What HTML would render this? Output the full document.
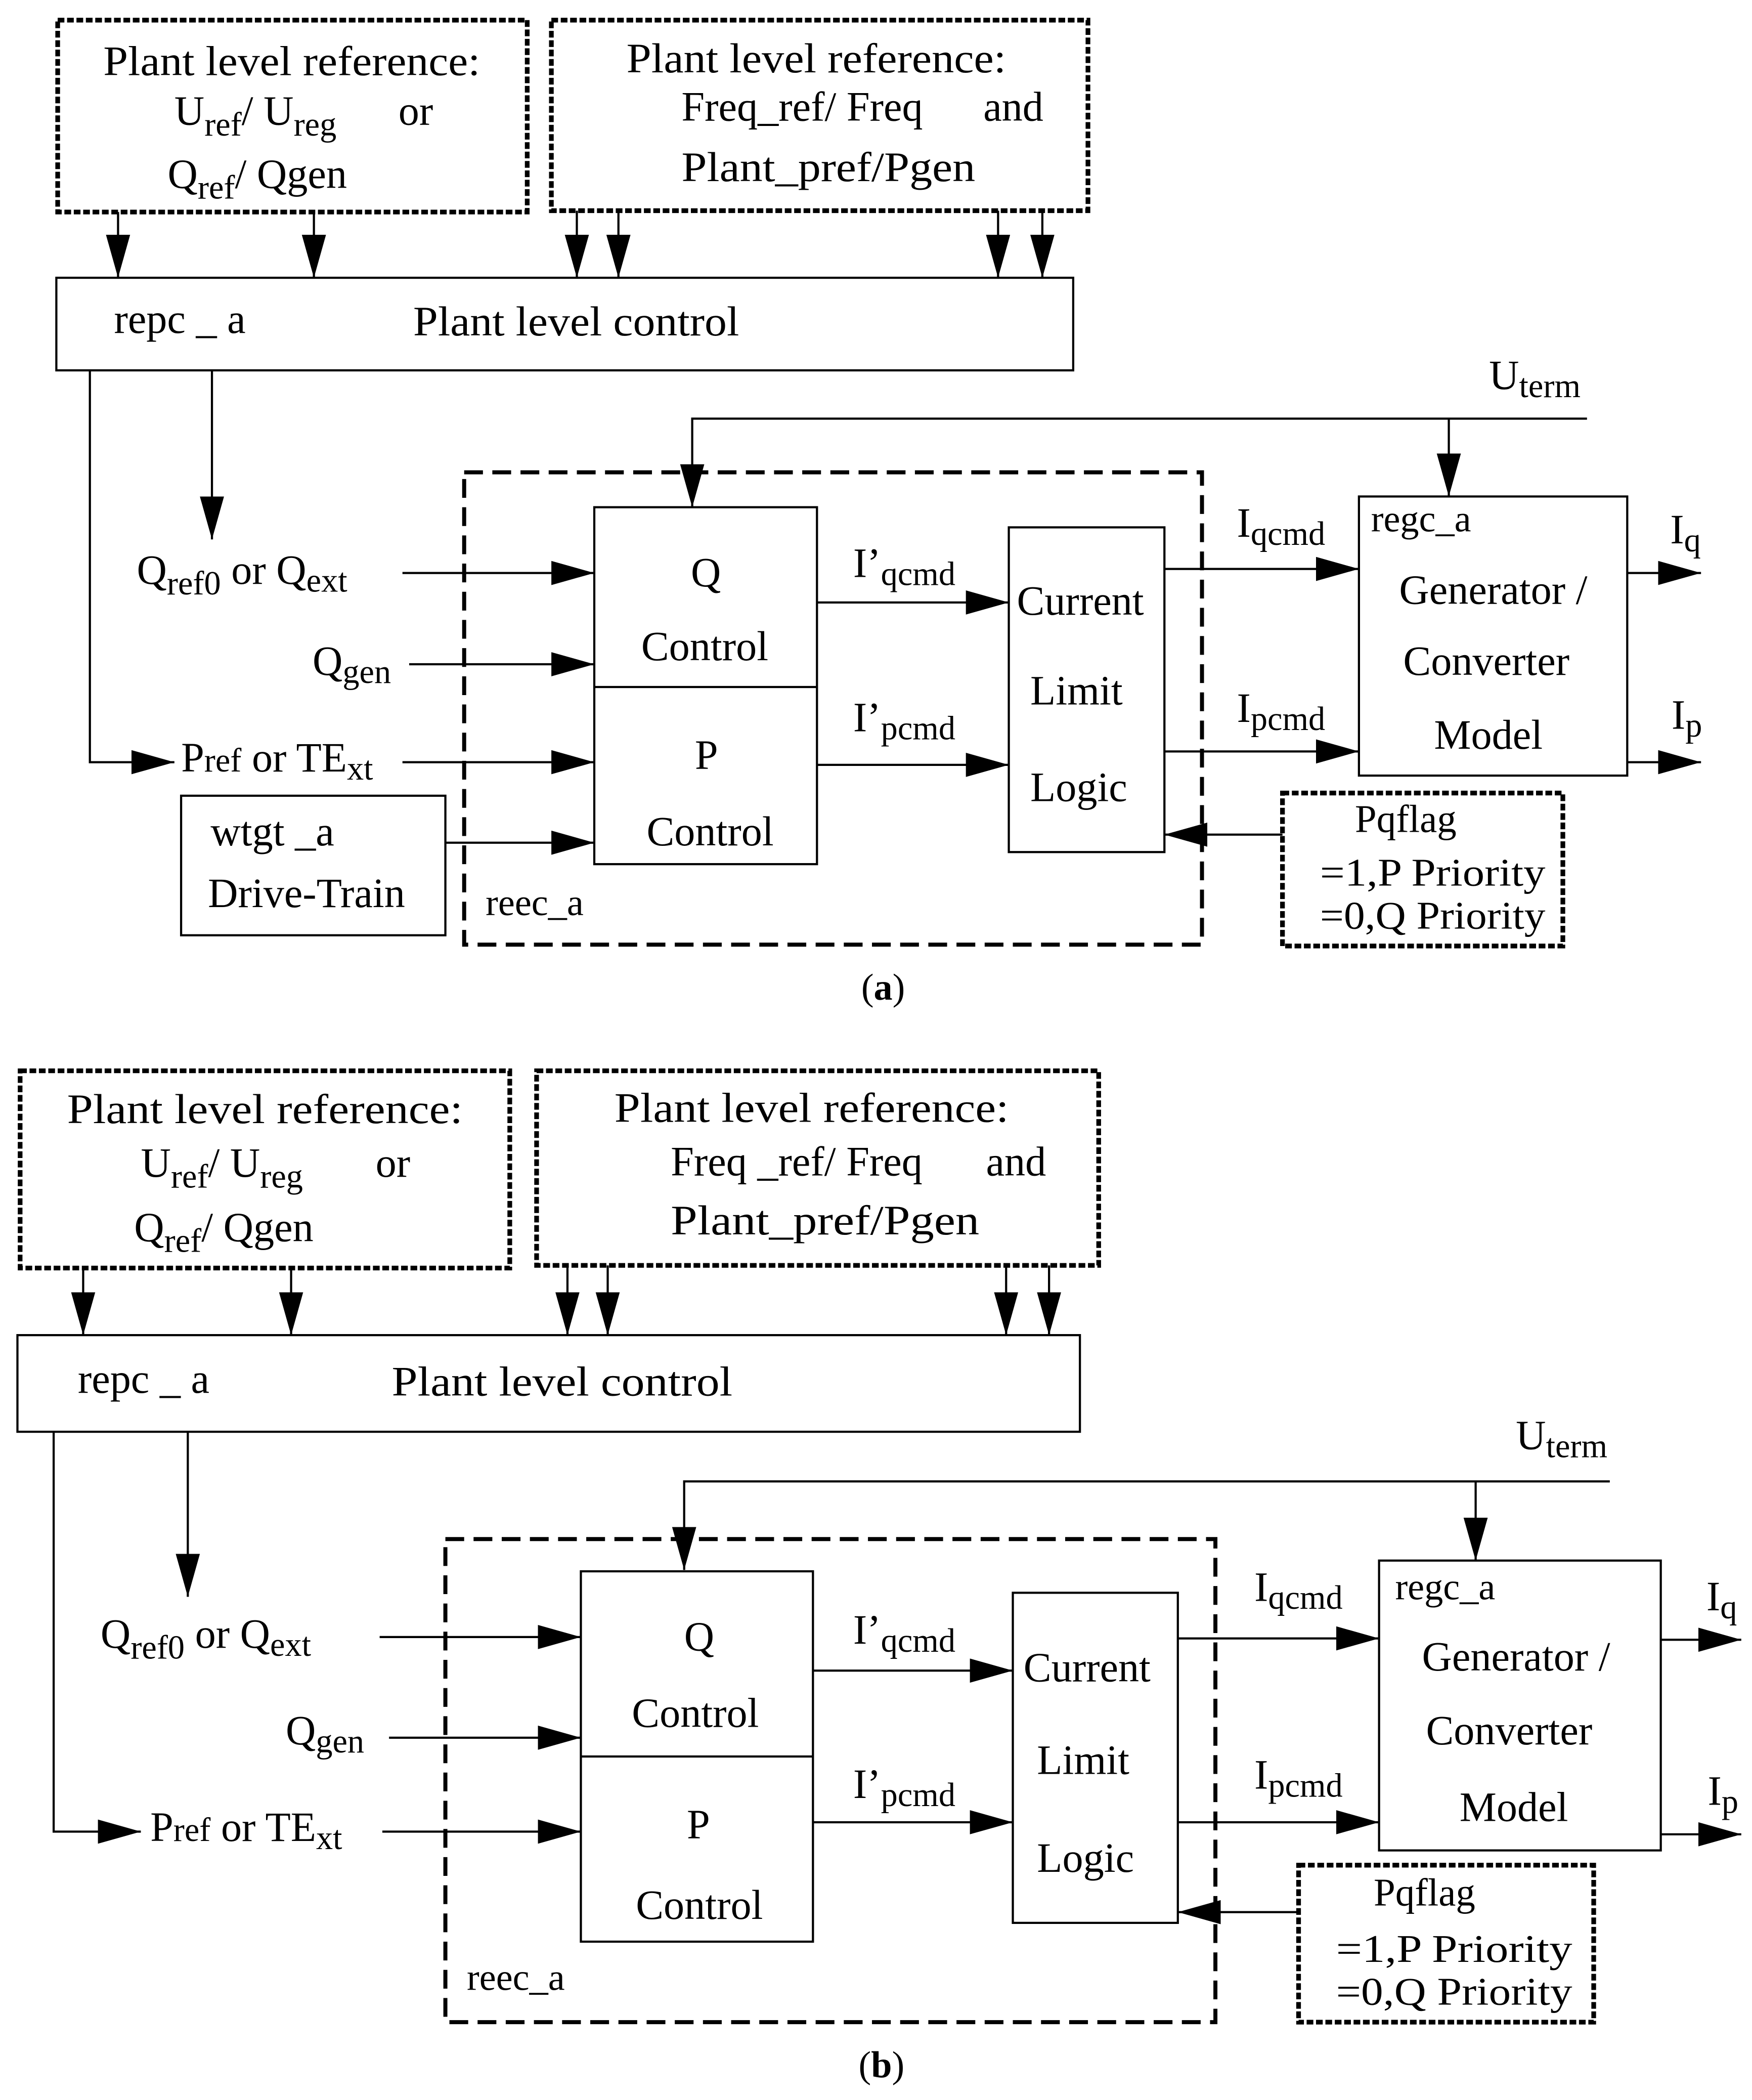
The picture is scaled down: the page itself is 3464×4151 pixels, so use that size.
<!DOCTYPE html>
<html><head><meta charset="utf-8"><style>
html,body{margin:0;padding:0;background:#fff;}
svg{display:block;}
text{font-family:"Liberation Serif","Times New Roman",serif;fill:#000;}
</style></head><body>
<svg width="3464" height="4151" viewBox="0 0 1306 1565" xmlns="http://www.w3.org/2000/svg">
<defs>
<marker id="ar" markerUnits="userSpaceOnUse" markerWidth="34" markerHeight="20" refX="32" refY="9" orient="auto">
<path d="M0,0 L32,9 L0,18 z" fill="#000"/></marker>
</defs>
<rect width="1306" height="1565" fill="#fff"/>
<g fill="none" stroke="#000" stroke-width="1.6">
<!-- (a) -->
<rect x="43" y="15" width="350" height="143" stroke-width="3.5" stroke-dasharray="5 2"/>
<rect x="411" y="15" width="400" height="142" stroke-width="3.5" stroke-dasharray="5 2"/>
<line x1="88" y1="158" x2="88" y2="207" marker-end="url(#ar)"/>
<line x1="234" y1="158" x2="234" y2="207" marker-end="url(#ar)"/>
<line x1="430" y1="157" x2="430" y2="207" marker-end="url(#ar)"/>
<line x1="461" y1="157" x2="461" y2="207" marker-end="url(#ar)"/>
<line x1="744" y1="157" x2="744" y2="207" marker-end="url(#ar)"/>
<line x1="777" y1="157" x2="777" y2="207" marker-end="url(#ar)"/>
<rect x="42" y="207" width="758" height="69"/>
<polyline points="67,276 67,568 130,568" marker-end="url(#ar)"/>
<line x1="158" y1="276" x2="158" y2="402" marker-end="url(#ar)"/>
<polyline points="1183,312 516,312 516,378" marker-end="url(#ar)"/>
<line x1="1080" y1="312" x2="1080" y2="370" marker-end="url(#ar)"/>
<rect x="346" y="352" width="550" height="352" stroke-width="3" stroke-dasharray="14 7"/>
<rect x="443" y="378" width="166" height="266"/>
<line x1="443" y1="512" x2="609" y2="512"/>
<rect x="752" y="393" width="116" height="242"/>
<rect x="1013" y="370" width="200" height="208"/>
<line x1="300" y1="427" x2="443" y2="427" marker-end="url(#ar)"/>
<line x1="305" y1="495" x2="443" y2="495" marker-end="url(#ar)"/>
<line x1="300" y1="568" x2="443" y2="568" marker-end="url(#ar)"/>
<rect x="135" y="593" width="197" height="104"/>
<line x1="332" y1="628" x2="443" y2="628" marker-end="url(#ar)"/>
<line x1="609" y1="449" x2="752" y2="449" marker-end="url(#ar)"/>
<line x1="609" y1="570" x2="752" y2="570" marker-end="url(#ar)"/>
<line x1="868" y1="424" x2="1013" y2="424" marker-end="url(#ar)"/>
<line x1="868" y1="560" x2="1013" y2="560" marker-end="url(#ar)"/>
<line x1="1213" y1="427" x2="1268" y2="427" marker-end="url(#ar)"/>
<line x1="1213" y1="568" x2="1268" y2="568" marker-end="url(#ar)"/>
<rect x="956" y="591" width="209" height="114" stroke-width="3.5" stroke-dasharray="5 2"/>
<line x1="956" y1="622" x2="868" y2="622" marker-end="url(#ar)"/>
<!-- (b) -->
<rect x="15" y="798" width="365" height="147" stroke-width="3.5" stroke-dasharray="5 2"/>
<rect x="400" y="798" width="419" height="145" stroke-width="3.5" stroke-dasharray="5 2"/>
<line x1="62" y1="945" x2="62" y2="995" marker-end="url(#ar)"/>
<line x1="217" y1="945" x2="217" y2="995" marker-end="url(#ar)"/>
<line x1="423" y1="943" x2="423" y2="995" marker-end="url(#ar)"/>
<line x1="453" y1="943" x2="453" y2="995" marker-end="url(#ar)"/>
<line x1="750" y1="943" x2="750" y2="995" marker-end="url(#ar)"/>
<line x1="782" y1="943" x2="782" y2="995" marker-end="url(#ar)"/>
<rect x="13" y="995" width="792" height="72"/>
<polyline points="40,1067 40,1365 105,1365" marker-end="url(#ar)"/>
<line x1="140" y1="1067" x2="140" y2="1190" marker-end="url(#ar)"/>
<polyline points="1200,1104 510,1104 510,1170" marker-end="url(#ar)"/>
<line x1="1100" y1="1104" x2="1100" y2="1163" marker-end="url(#ar)"/>
<rect x="332" y="1147" width="574" height="360" stroke-width="3" stroke-dasharray="14 7"/>
<rect x="433" y="1171" width="173" height="276"/>
<line x1="433" y1="1309" x2="606" y2="1309"/>
<rect x="755" y="1187" width="123" height="246"/>
<rect x="1028" y="1163" width="210" height="216"/>
<line x1="283" y1="1220" x2="433" y2="1220" marker-end="url(#ar)"/>
<line x1="290" y1="1295" x2="433" y2="1295" marker-end="url(#ar)"/>
<line x1="285" y1="1365" x2="433" y2="1365" marker-end="url(#ar)"/>
<line x1="606" y1="1245" x2="755" y2="1245" marker-end="url(#ar)"/>
<line x1="606" y1="1358" x2="755" y2="1358" marker-end="url(#ar)"/>
<line x1="878" y1="1221" x2="1028" y2="1221" marker-end="url(#ar)"/>
<line x1="878" y1="1358" x2="1028" y2="1358" marker-end="url(#ar)"/>
<line x1="1238" y1="1222" x2="1298" y2="1222" marker-end="url(#ar)"/>
<line x1="1238" y1="1367" x2="1298" y2="1367" marker-end="url(#ar)"/>
<rect x="968" y="1390" width="220" height="117" stroke-width="3.5" stroke-dasharray="5 2"/>
<line x1="968" y1="1425" x2="878" y2="1425" marker-end="url(#ar)"/>
</g>
<g font-size="31" font-family="Liberation Serif, Times New Roman, serif">
<!-- (a) text -->
<text x="77" y="56" textLength="281" lengthAdjust="spacingAndGlyphs">Plant level reference:</text>
<text x="130" y="93">U<tspan font-size="25" dy="8">ref</tspan><tspan dy="-8">/ U</tspan><tspan font-size="25" dy="8">reg</tspan><tspan dy="-8" x="297">or</tspan></text>
<text x="125" y="140">Q<tspan font-size="25" dy="8">ref</tspan><tspan dy="-8">/ Qgen</tspan></text>
<text x="467" y="54" textLength="283" lengthAdjust="spacingAndGlyphs">Plant level reference:</text>
<text x="508" y="90">Freq_ref/ Freq<tspan x="733">and</tspan></text>
<text x="508" y="135" textLength="219" lengthAdjust="spacingAndGlyphs">Plant_pref/Pgen</text>
<text x="85" y="248">repc  _ a</text>
<text x="308" y="250" textLength="243" lengthAdjust="spacingAndGlyphs">Plant level control</text>
<text x="1110" y="290">U<tspan font-size="25" dy="6">term</tspan></text>
<text x="102" y="435">Q<tspan font-size="25" dy="8">ref</tspan><tspan font-size="25">0</tspan><tspan dy="-8"> or Q</tspan><tspan font-size="25" dy="6">ext</tspan></text>
<text x="233" y="503">Q<tspan font-size="25" dy="6">gen</tspan></text>
<text x="135" y="575">P<tspan font-size="25">ref</tspan> or TE<tspan font-size="25" dy="6">xt</tspan></text>
<text x="515" y="437">Q</text>
<text x="478" y="492">Control</text>
<text x="518" y="573">P</text>
<text x="482" y="630">Control</text>
<text x="636" y="430">I’<tspan font-size="25" dy="6">qcmd</tspan></text>
<text x="636" y="545">I’<tspan font-size="25" dy="6">pcmd</tspan></text>
<text x="758" y="458">Current</text>
<text x="768" y="525">Limit</text>
<text x="768" y="597">Logic</text>
<text x="922" y="400">I<tspan font-size="25" dy="6">qcmd</tspan></text>
<text x="922" y="538">I<tspan font-size="25" dy="6">pcmd</tspan></text>
<text x="1022" y="396" font-size="28">regc_a</text>
<text x="1043" y="450">Generator /</text>
<text x="1046" y="503">Converter</text>
<text x="1069" y="558">Model</text>
<text x="1245" y="405">I<tspan font-size="25" dy="6">q</tspan></text>
<text x="1246" y="543">I<tspan font-size="25" dy="6">p</tspan></text>
<text x="157" y="630">wtgt _a</text>
<text x="155" y="676">Drive-Train</text>
<text x="362" y="682" font-size="28">reec_a</text>
<text x="1010" y="620" font-size="29">Pqflag</text>
<text x="984" y="660" font-size="29" textLength="168" lengthAdjust="spacingAndGlyphs">=1,P Priority</text>
<text x="984" y="692" font-size="29" textLength="168" lengthAdjust="spacingAndGlyphs">=0,Q Priority</text>
<text x="642" y="745" font-size="28">(<tspan font-weight="bold">a</tspan>)</text>
<!-- (b) text -->
<text x="50" y="837" textLength="295" lengthAdjust="spacingAndGlyphs">Plant level reference:</text>
<text x="105" y="877">U<tspan font-size="25" dy="8">ref</tspan><tspan dy="-8">/ U</tspan><tspan font-size="25" dy="8">reg</tspan><tspan dy="-8" x="280">or</tspan></text>
<text x="100" y="925">Q<tspan font-size="25" dy="8">ref</tspan><tspan dy="-8">/ Qgen</tspan></text>
<text x="458" y="836" textLength="294" lengthAdjust="spacingAndGlyphs">Plant level reference:</text>
<text x="500" y="876">Freq _ref/ Freq<tspan x="735">and</tspan></text>
<text x="500" y="920" textLength="230" lengthAdjust="spacingAndGlyphs">Plant_pref/Pgen</text>
<text x="58" y="1038">repc  _ a</text>
<text x="292" y="1040" textLength="254" lengthAdjust="spacingAndGlyphs">Plant level control</text>
<text x="1130" y="1080">U<tspan font-size="25" dy="6">term</tspan></text>
<text x="75" y="1228">Q<tspan font-size="25" dy="8">ref</tspan><tspan font-size="25">0</tspan><tspan dy="-8"> or Q</tspan><tspan font-size="25" dy="6">ext</tspan></text>
<text x="213" y="1300">Q<tspan font-size="25" dy="6">gen</tspan></text>
<text x="112" y="1372">P<tspan font-size="25">ref</tspan> or TE<tspan font-size="25" dy="6">xt</tspan></text>
<text x="510" y="1230">Q</text>
<text x="471" y="1287">Control</text>
<text x="512" y="1370">P</text>
<text x="474" y="1430">Control</text>
<text x="636" y="1225">I’<tspan font-size="25" dy="6">qcmd</tspan></text>
<text x="636" y="1340">I’<tspan font-size="25" dy="6">pcmd</tspan></text>
<text x="763" y="1253">Current</text>
<text x="773" y="1322">Limit</text>
<text x="773" y="1395">Logic</text>
<text x="935" y="1193">I<tspan font-size="25" dy="6">qcmd</tspan></text>
<text x="935" y="1333">I<tspan font-size="25" dy="6">pcmd</tspan></text>
<text x="1040" y="1192" font-size="28">regc_a</text>
<text x="1060" y="1245">Generator /</text>
<text x="1063" y="1300">Converter</text>
<text x="1088" y="1357">Model</text>
<text x="1272" y="1200">I<tspan font-size="25" dy="6">q</tspan></text>
<text x="1273" y="1345">I<tspan font-size="25" dy="6">p</tspan></text>
<text x="348" y="1483" font-size="28">reec_a</text>
<text x="1024" y="1420" font-size="29">Pqflag</text>
<text x="996" y="1462" font-size="29" textLength="176" lengthAdjust="spacingAndGlyphs">=1,P Priority</text>
<text x="996" y="1494" font-size="29" textLength="176" lengthAdjust="spacingAndGlyphs">=0,Q Priority</text>
<text x="640" y="1548" font-size="28">(<tspan font-weight="bold">b</tspan>)</text>
</g>
</svg>
</body></html>
